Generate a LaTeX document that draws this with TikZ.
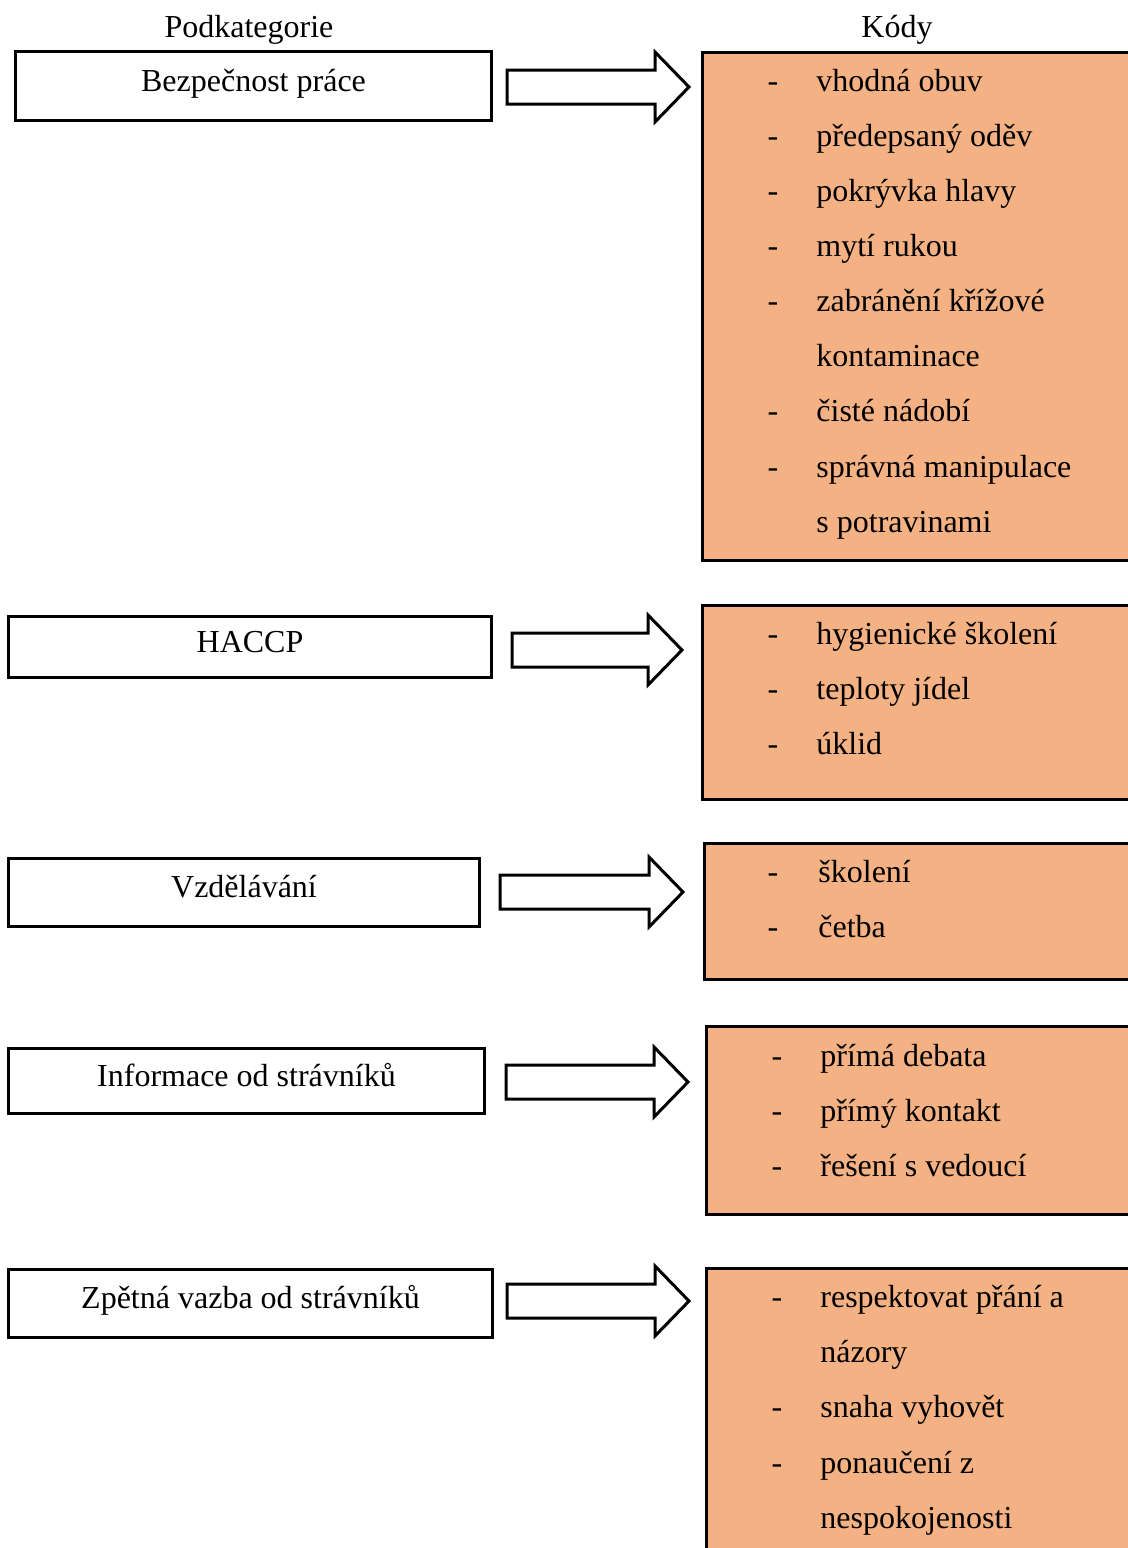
\documentclass[tikz,border=0pt]{standalone}
\usepackage{fontspec}
\setmainfont{Liberation Serif}
\usetikzlibrary{calc}

\definecolor{kodorange}{RGB}{244,177,131}

\tikzset{
  catbox/.style={draw, line width=1.5pt, rectangle, anchor=north west, inner sep=0pt,
                 text height=0.7em, text depth=0.2em},
  codebox/.style={draw, line width=1.5pt, fill=kodorange, rectangle, anchor=north west, inner sep=0pt},
  fatarrow/.style={draw, line width=1.5pt, fill=white, line join=miter},
  item/.style={anchor=base west, inner sep=0pt},
  dashmark/.style={anchor=base, inner sep=0pt},
  head/.style={anchor=base, inner sep=0pt}
}

% block arrow from #1 (tail) to #2 (tip)
\newcommand{\blockarrow}[2]{%
  \draw[fatarrow] ($(#1)+(0,-17)$) -- ($(#2)+(-34,-17)$) -- ($(#2)+(-34,-35)$) -- (#2)
     -- ($(#2)+(-34,35)$) -- ($(#2)+(-34,17)$) -- ($(#1)+(0,17)$) -- cycle;}

\begin{document}
\begin{tikzpicture}[x=0.5pt, y=-0.5pt, font=\fontsize{16}{19}\selectfont]
\useasboundingbox (0,0) rectangle (1128,1548);
\clip (0,0) rectangle (1128,1548);

% headings
\node[head] (podk) at (249,37) {Podkategorie};
\node[head] (kody) at (897,37) {Kódy};

% subcategories
\node[catbox, minimum width=238pt, minimum height=34.5pt] (bez) at (14,50) {Bezpečnost práce};
\node[catbox, minimum width=241.5pt, minimum height=30.5pt] (haccp) at (7,615) {HACCP};
\node[catbox, minimum width=235.5pt, minimum height=34pt] (vzd) at (7,857) {Vzdělávání};
\node[catbox, minimum width=238pt, minimum height=32.5pt] (info) at (7,1047) {Informace od strávníků};
\node[catbox, minimum width=242pt, minimum height=34pt] (zpet) at (7,1268) {Zpětná vazba od strávníků};

% code boxes
\node[codebox, minimum width=219pt, minimum height=254pt] (kod1) at (701,51) {};
\node[codebox, minimum width=219pt, minimum height=97pt] (kod2) at (701,604) {};
\node[codebox, minimum width=218pt, minimum height=68pt] (kod3) at (703,842) {};
\node[codebox, minimum width=217pt, minimum height=94pt] (kod4) at (705,1025) {};
\node[codebox, minimum width=217pt, minimum height=150pt] (kod5) at (705,1267) {};

% arrows
\coordinate (a1s) at (507,87);   \coordinate (a1e) at (689,87);
\coordinate (a2s) at (512,650);  \coordinate (a2e) at (682,650);
\coordinate (a3s) at (500,892);  \coordinate (a3e) at (683,892);
\coordinate (a4s) at (506,1082); \coordinate (a4e) at (688,1082);
\coordinate (a5s) at (507,1301); \coordinate (a5e) at (689,1301);
\blockarrow{a1s}{a1e}
\blockarrow{a2s}{a2e}
\blockarrow{a3s}{a3e}
\blockarrow{a4s}{a4e}
\blockarrow{a5s}{a5e}

% codes - Bezpecnost prace
\foreach \y/\t [count=\i] in {91/vhodná obuv, 146/předepsaný oděv, 201/pokrývka hlavy,
    256/mytí rukou, 311/zabránění křížové, 421/čisté nádobí, 477/správná manipulace} {
  \node[dashmark] (d1\i) at (773,\y) {-};
  \node[item] (c1\i) at (816,\y) {\t};
}
\node[item] (c1k) at (816,366) {kontaminace};
\node[item] (c1s) at (816,532) {s potravinami};

% codes - HACCP
\foreach \y/\t [count=\i] in {644/hygienické školení, 699/teploty jídel, 754/úklid} {
  \node[dashmark] (d2\i) at (773,\y) {-};
  \node[item] (c2\i) at (816,\y) {\t};
}

% codes - Vzdelavani
\foreach \y/\t [count=\i] in {882/školení, 937/četba} {
  \node[dashmark] (d3\i) at (773,\y) {-};
  \node[item] (c3\i) at (818,\y) {\t};
}

% codes - Informace
\foreach \y/\t [count=\i] in {1066/přímá debata, 1121/přímý kontakt, 1176/řešení s vedoucí} {
  \node[dashmark] (d4\i) at (777,\y) {-};
  \node[item] (c4\i) at (820,\y) {\t};
}

% codes - Zpetna vazba
\foreach \y/\t [count=\i] in {1307/respektovat přání a, 1417/snaha vyhovět, 1473/ponaučení z} {
  \node[dashmark] (d5\i) at (777,\y) {-};
  \node[item] (c5\i) at (820,\y) {\t};
}
\node[item] (c5n) at (820,1362) {názory};
\node[item] (c5p) at (820,1528) {nespokojenosti};
\end{tikzpicture}
\end{document}
